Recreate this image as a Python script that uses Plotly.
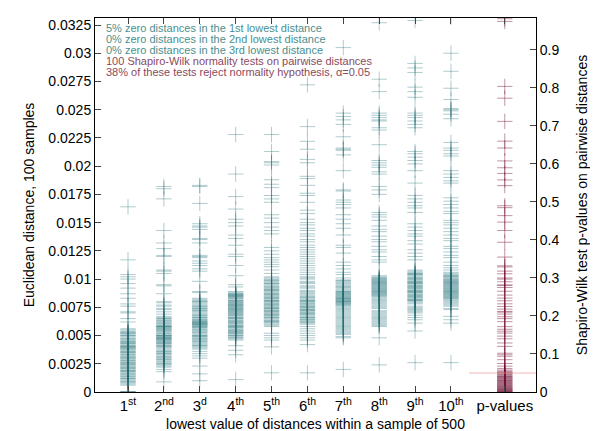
import plotly.graph_objects as go

# lowest-distance ranks (x positions) and labels
rank_pos = [1, 2, 3, 4, 5, 6, 7, 8, 9, 10]
pval_pos = 11.5
tick_pos = rank_pos + [pval_pos]
tick_text = ["1<sup>st</sup>", "2<sup>nd</sup>", "3<sup>d</sup>", "4<sup>th</sup>", "5<sup>th</sup>",
             "6<sup>th</sup>", "7<sup>th</sup>", "8<sup>th</sup>", "9<sup>th</sup>", "10<sup>th</sup>",
             "p-values"]

# euclidean distance, 100 samples per rank
d1 = [0, 0, 0, 0, 0, 0.0164, 0.0117,
      0.0104, 0.0102, 0.0100, 0.0096, 0.0092, 0.0087, 0.0083, 0.0078, 0.0076, 0.0071, 0.0070, 0.0065, 0.0062,
      0.0056, 0.0055, 0.0054, 0.0053, 0.0052, 0.0052, 0.0051, 0.0050, 0.0049, 0.0048, 0.0047, 0.0046, 0.0045,
      0.0045, 0.0044, 0.0043, 0.0042, 0.0041, 0.0041, 0.0040, 0.0040, 0.0039, 0.0038, 0.0037, 0.0036, 0.0036,
      0.0035, 0.0034, 0.0033, 0.0032, 0.0031, 0.0030, 0.0030, 0.0029, 0.0028, 0.0027, 0.0026, 0.0026, 0.0025,
      0.0024, 0.0023, 0.0022, 0.0022, 0.0021, 0.0020, 0.0019, 0.0018, 0.0018, 0.0017, 0.0016, 0.0015, 0.0014,
      0.0014, 0.0013, 0.0012, 0.0011, 0.0010, 0.0009, 0.0008, 0.0007, 0.0006, 0.0043, 0.0039, 0.0033, 0.0028,
      0.0024, 0.0019, 0.0016, 0.0047, 0.0050, 0.0053, 0.0035, 0.0031, 0.0021, 0.0012, 0.0009, 0.0040, 0.0025,
      0.0044, 0.0038]
d2 = [0.0182, 0.0180, 0.0171, 0.0143, 0.0132, 0.0127, 0.0121, 0.0120, 0.0108, 0.0107, 0.0105, 0.0095, 0.0094,
      0.0087, 0.0080, 0.0079, 0.0077, 0.0076, 0.0074, 0.0073, 0.0071, 0.0069,
      0.0067, 0.0066, 0.0065, 0.0064, 0.0063, 0.0062, 0.0061, 0.0060, 0.0059, 0.0058, 0.0058, 0.0057, 0.0056,
      0.0055, 0.0054, 0.0053, 0.0052, 0.0051, 0.0050, 0.0050, 0.0049, 0.0048, 0.0047, 0.0047, 0.0046, 0.0045,
      0.0044, 0.0043, 0.0042, 0.0041, 0.0040, 0.0039, 0.0038, 0.0037, 0.0036, 0.0035, 0.0034, 0.0033, 0.0032,
      0.0031, 0.0030, 0.0029, 0.0028, 0.0027, 0.0026, 0.0025, 0.0024, 0.0023, 0.0022, 0.0020, 0.0018, 0.0009,
      0.0063, 0.0057, 0.0049, 0.0045, 0.0061, 0.0054, 0.0048, 0.0041, 0.0036, 0.0059, 0.0052, 0.0046, 0.0065,
      0.0050, 0.0043, 0.0034, 0.0029, 0.0056, 0.0047, 0.0040, 0.0031, 0.0055, 0.0048, 0.0044, 0.0025, 0.0058]
d3 = [0.0183, 0.0182, 0.0167, 0.0149, 0.0147, 0.0146, 0.0144, 0.0136, 0.0135, 0.0132, 0.0121, 0.0120, 0.0119,
      0.0116, 0.0114, 0.0112, 0.0109, 0.0107, 0.0098, 0.0089, 0.0088,
      0.0083, 0.0082, 0.0081, 0.0080, 0.0079, 0.0078, 0.0077, 0.0076, 0.0075, 0.0074, 0.0073, 0.0072, 0.0071,
      0.0070, 0.0069, 0.0068, 0.0067, 0.0066, 0.0065, 0.0064, 0.0063, 0.0062, 0.0062, 0.0061, 0.0061, 0.0060,
      0.0060, 0.0059, 0.0058, 0.0058, 0.0057, 0.0056, 0.0055, 0.0054, 0.0053, 0.0052, 0.0051, 0.0050, 0.0049,
      0.0048, 0.0047, 0.0046, 0.0045, 0.0044, 0.0043, 0.0042, 0.0041, 0.0040, 0.0039, 0.0038, 0.0036, 0.0034,
      0.0032, 0.0030, 0.0023, 0.0016, 0.0010,
      0.0080, 0.0074, 0.0068, 0.0063, 0.0059, 0.0055, 0.0050, 0.0045, 0.0062, 0.0061, 0.0072, 0.0066, 0.0053,
      0.0047, 0.0041, 0.0076, 0.0057, 0.0064, 0.0060, 0.0049]
d4 = [0.0228, 0.0193, 0.0173, 0.0162, 0.0153, 0.0150, 0.0147, 0.0139, 0.0136, 0.0130, 0.0122, 0.0120, 0.0112,
      0.0103, 0.0095, 0.0093,
      0.0089, 0.0088, 0.0087, 0.0086, 0.0085, 0.0085, 0.0084, 0.0083, 0.0082, 0.0081, 0.0080, 0.0079, 0.0078,
      0.0077, 0.0077, 0.0076, 0.0075, 0.0074, 0.0073, 0.0072, 0.0071, 0.0070, 0.0069, 0.0068, 0.0067, 0.0066,
      0.0065, 0.0064, 0.0063, 0.0062, 0.0061, 0.0060, 0.0059, 0.0058, 0.0057, 0.0056, 0.0055, 0.0054, 0.0053,
      0.0052, 0.0051, 0.0050, 0.0049, 0.0048, 0.0047, 0.0046, 0.0041, 0.0037, 0.0033, 0.0011,
      0.0087, 0.0085, 0.0083, 0.0080, 0.0078, 0.0076, 0.0074, 0.0071, 0.0068, 0.0065, 0.0061, 0.0057, 0.0053,
      0.0050, 0.0086, 0.0084, 0.0079, 0.0075, 0.0072, 0.0069, 0.0063, 0.0059, 0.0055, 0.0052, 0.0081, 0.0077,
      0.0070, 0.0066, 0.0062, 0.0058, 0.0054, 0.0048, 0.0086, 0.0073]
d5 = [0.0228, 0.0213, 0.0204, 0.0203, 0.0201, 0.0188, 0.0184, 0.0181, 0.0174, 0.0171, 0.0168, 0.0157, 0.0154,
      0.0150, 0.0146, 0.0143, 0.0140, 0.0128, 0.0125, 0.0122, 0.0119, 0.0117, 0.0115, 0.0113, 0.0111, 0.0108,
      0.0105,
      0.0102, 0.0101, 0.0100, 0.0099, 0.0098, 0.0097, 0.0096, 0.0095, 0.0094, 0.0093, 0.0092, 0.0091, 0.0090,
      0.0089, 0.0088, 0.0087, 0.0086, 0.0085, 0.0084, 0.0083, 0.0082, 0.0081, 0.0080, 0.0079, 0.0078, 0.0077,
      0.0076, 0.0075, 0.0074, 0.0073, 0.0072, 0.0071, 0.0070, 0.0069, 0.0068, 0.0067, 0.0066, 0.0065, 0.0064,
      0.0063, 0.0062, 0.0061, 0.0060, 0.0059, 0.0058, 0.0052, 0.0050, 0.0048, 0.0046, 0.0040, 0.0017,
      0.0099, 0.0096, 0.0093, 0.0090, 0.0087, 0.0084, 0.0081, 0.0078, 0.0075, 0.0072, 0.0069, 0.0066, 0.0063,
      0.0086, 0.0080, 0.0074, 0.0068, 0.0062, 0.0091, 0.0083, 0.0077, 0.0071]
d6 = [0.0272, 0.0235, 0.0222, 0.0215, 0.0206, 0.0203, 0.0191, 0.0189, 0.0183, 0.0176, 0.0174, 0.0168, 0.0161,
      0.0158,
      0.0153, 0.0150, 0.0148, 0.0145, 0.0143, 0.0140, 0.0138, 0.0135, 0.0133, 0.0130, 0.0128, 0.0126, 0.0124,
      0.0122, 0.0120, 0.0118, 0.0116, 0.0114, 0.0112, 0.0110, 0.0108, 0.0106, 0.0104, 0.0102, 0.0100, 0.0098,
      0.0096, 0.0094, 0.0092, 0.0090, 0.0088, 0.0086, 0.0085, 0.0084, 0.0083, 0.0082, 0.0081, 0.0080, 0.0079,
      0.0078, 0.0077, 0.0076, 0.0075, 0.0074, 0.0073, 0.0072, 0.0071, 0.0070, 0.0069, 0.0068, 0.0067, 0.0066,
      0.0065, 0.0064, 0.0063, 0.0062, 0.0061, 0.0060, 0.0058, 0.0056, 0.0054, 0.0052, 0.0050, 0.0048, 0.0046,
      0.0042, 0.0017,
      0.0101, 0.0097, 0.0093, 0.0089, 0.0087, 0.0084, 0.0081, 0.0078, 0.0075, 0.0072, 0.0069, 0.0066, 0.0064,
      0.0062, 0.0080, 0.0076, 0.0073, 0.0070]
d7 = [0.0305, 0.0247, 0.0244, 0.0241, 0.0237, 0.0226, 0.0216, 0.0215, 0.0214, 0.0210, 0.0196, 0.0179, 0.0178,
      0.0170, 0.0168, 0.0166, 0.0163, 0.0157, 0.0153, 0.0149, 0.0145, 0.0139, 0.0130, 0.0128, 0.0123, 0.0115,
      0.0112, 0.0109, 0.0106, 0.0104,
      0.0101, 0.0099, 0.0097, 0.0095, 0.0093, 0.0092, 0.0090, 0.0089, 0.0088, 0.0087, 0.0086, 0.0085, 0.0084,
      0.0083, 0.0082, 0.0081, 0.0080, 0.0079, 0.0078, 0.0077, 0.0076, 0.0075, 0.0073, 0.0071, 0.0069, 0.0067,
      0.0065, 0.0063, 0.0061, 0.0059, 0.0057, 0.0055, 0.0053, 0.0051, 0.0049, 0.0048, 0.0020,
      0.0098, 0.0094, 0.0091, 0.0088, 0.0085, 0.0083, 0.0081, 0.0079, 0.0077, 0.0086, 0.0084, 0.0082, 0.0080,
      0.0078, 0.0096, 0.0072, 0.0068, 0.0064, 0.0060, 0.0056, 0.0052, 0.0070, 0.0066, 0.0062, 0.0089, 0.0087,
      0.0083, 0.0080, 0.0074, 0.0093, 0.0099, 0.0058, 0.0054]
d8 = [0.0327, 0.0277, 0.0266, 0.0247, 0.0245, 0.0243, 0.0241, 0.0240, 0.0234, 0.0232, 0.0219, 0.0205, 0.0203,
      0.0201, 0.0199, 0.0195, 0.0193, 0.0182, 0.0179, 0.0175, 0.0159, 0.0157, 0.0155, 0.0152, 0.0147, 0.0144,
      0.0142, 0.0138, 0.0135, 0.0133, 0.0129, 0.0126, 0.0124, 0.0120, 0.0117, 0.0115,
      0.0103, 0.0102, 0.0101, 0.0100, 0.0099, 0.0098, 0.0097, 0.0096, 0.0095, 0.0094, 0.0093, 0.0092, 0.0091,
      0.0090, 0.0089, 0.0088, 0.0087, 0.0086, 0.0085, 0.0084, 0.0082, 0.0080, 0.0078, 0.0076, 0.0074, 0.0072,
      0.0070, 0.0068, 0.0066, 0.0064, 0.0062, 0.0060, 0.0058, 0.0048, 0.0024,
      0.0101, 0.0099, 0.0097, 0.0095, 0.0093, 0.0091, 0.0089, 0.0087, 0.0085, 0.0100, 0.0096, 0.0092, 0.0088,
      0.0083, 0.0079, 0.0075, 0.0071, 0.0067, 0.0063, 0.0059, 0.0094, 0.0090, 0.0086, 0.0081, 0.0077, 0.0069,
      0.0065, 0.0061, 0.0098]
d9 = [0.0329, 0.0291, 0.0287, 0.0283, 0.0270, 0.0266, 0.0261, 0.0247, 0.0245, 0.0243, 0.0240, 0.0237, 0.0234,
      0.0213, 0.0211, 0.0208, 0.0205, 0.0202, 0.0196, 0.0185, 0.0174, 0.0171, 0.0168, 0.0165, 0.0163, 0.0159,
      0.0149, 0.0146, 0.0143, 0.0140, 0.0138, 0.0134, 0.0131, 0.0126, 0.0123, 0.0120, 0.0117,
      0.0108, 0.0107, 0.0106, 0.0105, 0.0104, 0.0103, 0.0102, 0.0101, 0.0100, 0.0099, 0.0098, 0.0097, 0.0096,
      0.0095, 0.0094, 0.0093, 0.0092, 0.0091, 0.0090, 0.0089, 0.0088, 0.0087, 0.0086, 0.0085, 0.0084, 0.0083,
      0.0082, 0.0081, 0.0080, 0.0078, 0.0076, 0.0074, 0.0072, 0.0070, 0.0068, 0.0061, 0.0054, 0.0026,
      0.0105, 0.0101, 0.0097, 0.0093, 0.0089, 0.0085, 0.0081, 0.0104, 0.0100, 0.0096, 0.0092, 0.0088, 0.0084,
      0.0079, 0.0075, 0.0071, 0.0098, 0.0094, 0.0090, 0.0086, 0.0082, 0.0073, 0.0066, 0.0064]
d10 = [0.0332, 0.0300, 0.0284, 0.0269, 0.0259, 0.0251, 0.0250, 0.0249, 0.0246, 0.0242, 0.0221, 0.0216, 0.0214,
       0.0211, 0.0209, 0.0196, 0.0193, 0.0190, 0.0187, 0.0185, 0.0172, 0.0169, 0.0166, 0.0163, 0.0160, 0.0158,
       0.0152, 0.0150, 0.0148, 0.0145, 0.0142, 0.0139, 0.0136, 0.0134, 0.0129, 0.0127, 0.0124, 0.0121, 0.0119,
       0.0115, 0.0112, 0.0110, 0.0108, 0.0106, 0.0105, 0.0104, 0.0103, 0.0102, 0.0101, 0.0100, 0.0099, 0.0098,
       0.0097, 0.0096, 0.0095, 0.0094, 0.0093, 0.0092, 0.0091, 0.0090, 0.0089, 0.0088, 0.0087, 0.0086, 0.0085,
       0.0084, 0.0083, 0.0082, 0.0080, 0.0078, 0.0076, 0.0073, 0.0067, 0.0064, 0.0061, 0.0026,
       0.0103, 0.0100, 0.0097, 0.0094, 0.0091, 0.0088, 0.0085, 0.0102, 0.0098, 0.0095, 0.0092, 0.0089, 0.0086,
       0.0083, 0.0099, 0.0093, 0.0087, 0.0081, 0.0079, 0.0096, 0.0090, 0.0084, 0.0077, 0.0074]
distances = [d1, d2, d3, d4, d5, d6, d7, d8, d9, d10]

# Shapiro-Wilk p-values, 100 tests
p_values = [0.982, 0.975, 0.804, 0.773, 0.712, 0.660, 0.642, 0.608, 0.590, 0.575, 0.558, 0.543, 0.490, 0.485,
            0.464, 0.447, 0.425, 0.394, 0.355, 0.332, 0.329, 0.318, 0.311, 0.300, 0.290, 0.280, 0.275, 0.265,
            0.255, 0.247, 0.232, 0.225, 0.218, 0.212, 0.205, 0.198, 0.185, 0.172, 0.160, 0.155, 0.147, 0.129,
            0.120, 0.102, 0.098, 0.094, 0.085, 0.075, 0.068, 0.062, 0.058, 0.055, 0.053, 0.051, 0.050, 0.140,
            0.165, 0.240, 0.282, 0.297, 0.210, 0.193,
            0.048, 0.046, 0.044, 0.042, 0.041, 0.040, 0.038, 0.037, 0.035, 0.034, 0.032, 0.031, 0.030, 0.028,
            0.027, 0.025, 0.024, 0.022, 0.021, 0.020, 0.018, 0.017, 0.015, 0.014, 0.013, 0.012, 0.010, 0.009,
            0.008, 0.007, 0.006, 0.005, 0.004, 0.003, 0.002, 0.001, 0.0005, 0.0]
alpha = 0.05

left_ticks = [0, 0.0025, 0.005, 0.0075, 0.01, 0.0125, 0.015, 0.0175, 0.02, 0.0225, 0.025, 0.0275, 0.03, 0.0325]
left_labels = ["0", "0.0025", "0.005", "0.0075", "0.01", "0.0125", "0.015", "0.0175", "0.02", "0.0225",
               "0.025", "0.0275", "0.03", "0.0325"]
right_ticks = [0, 0.1, 0.2, 0.3, 0.4, 0.5, 0.6, 0.7, 0.8, 0.9]
right_labels = ["0", "0.1", "0.2", "0.3", "0.4", "0.5", "0.6", "0.7", "0.8", "0.9"]

notes = [
    ("5% zero distances in the 1st lowest distance", "#4a8f8f"),
    ("0% zero distances in the 2nd lowest distance", "#4a8f8f"),
    ("0% zero distances in the 3rd lowest distance", "#4a8f8f"),
    ("100 Shapiro-Wilk normality tests on pairwise distances", "#8a4a60"),
    ("38% of these tests reject normality hypothesis, α=0.05", "#8a4a60"),
]

TEAL = "rgba(35,112,118,0.36)"
MAROON = "rgba(115,20,55,0.45)"
FONT = "Liberation Sans"

fig = go.Figure()
for pos, vals in zip(rank_pos, distances):
    fig.add_trace(go.Scatter(
        x=[pos] * len(vals), y=vals, mode="markers", showlegend=False,
        marker=dict(symbol="cross-thin", size=11, line=dict(color=TEAL, width=1)),
    ))
fig.add_trace(go.Scatter(
    x=[pval_pos] * len(p_values), y=p_values, yaxis="y2", mode="markers", showlegend=False,
    marker=dict(symbol="cross-thin", size=11, line=dict(color=MAROON, width=1)),
))

# alpha threshold line
fig.add_shape(type="line", xref="x", yref="y2", x0=10.5, x1=12.37, y0=alpha, y1=alpha,
              line=dict(color="rgba(240,150,150,0.7)", width=1))

for i, (txt, col) in enumerate(notes):
    fig.add_annotation(text=txt, xref="paper", yref="paper", x=0.02, y=1 - 0.006 - i * 0.0295,
                       xanchor="left", yanchor="top", showarrow=False,
                       font=dict(size=11, color=col, family=FONT))

fig.update_layout(
    width=598, height=431,
    margin=dict(l=87, r=70, t=9, b=45),
    plot_bgcolor="white", paper_bgcolor="white",
    font=dict(family=FONT, size=14, color="black"),
    xaxis=dict(range=[0.08, 12.37], tickvals=tick_pos, ticktext=tick_text, ticks="inside", ticklen=6,
               showline=True, mirror="ticks", linecolor="black", linewidth=1, showgrid=False, zeroline=False,
               tickfont=dict(size=15),
               title=dict(text="lowest value of distances within a sample of 500", font=dict(size=14), standoff=6)),
    yaxis=dict(range=[0, 0.03312], tickvals=left_ticks, ticktext=left_labels, ticks="inside", ticklen=6,
               showline=True, linecolor="black", linewidth=1, showgrid=False, zeroline=False,
               title=dict(text="Euclidean distance, 100 samples", font=dict(size=14), standoff=10)),
    yaxis2=dict(range=[0, 0.984], tickvals=right_ticks, ticktext=right_labels, ticks="inside", ticklen=6,
                overlaying="y", side="right", showline=True, linecolor="black", linewidth=1,
                showgrid=False, zeroline=False,
                title=dict(text="Shapiro-Wilk test p-values on pairwise distances", font=dict(size=14),
                           standoff=18)),
)

fig.write_html("out.html")
